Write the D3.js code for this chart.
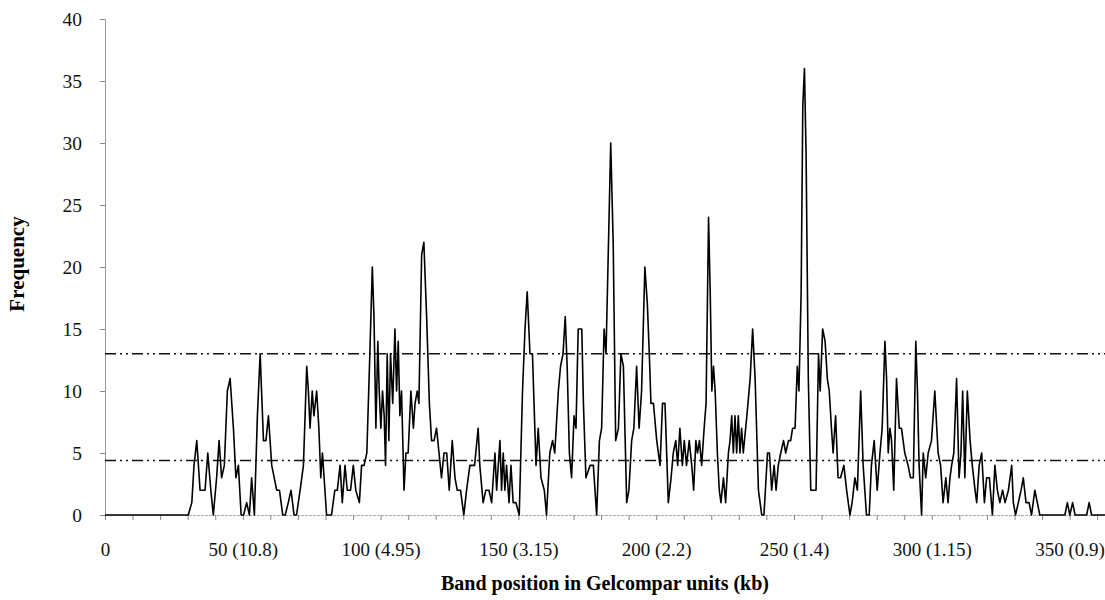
<!DOCTYPE html>
<html>
<head>
<meta charset="utf-8">
<script src="https://cdn.jsdelivr.net/npm/d3@7"></script>
<style>
  html, body { margin: 0; padding: 0; background: #fff; }
  svg { display: block; }
</style>
</head>
<body>
<svg id="chart" width="1105" height="600"></svg>
<script>
// ---------------- data ----------------
// band position (Gelcompar units) of each vertex of the frequency curve
const bandPosition = [
  0, 30.2, 31.5, 32.3, 33.3, 34.5, 36.3, 37.3, 38.4, 39.3, 40.5, 41.4, 42.3, 43.3, 44.4, 45.4, 46.6, 47.5, 48.4, 49.4,
  50.3, 51.4, 52.4, 53.2, 54.2, 55.3, 56.3, 57.5, 58.4, 59.3, 60.5, 62.3, 63.3, 64.5, 65.4, 66.5, 67.5, 68.6, 69.5,
  70.8, 72, 73.2, 73.8, 74.4, 75.2, 75.8, 76.8, 77.6, 78.3, 78.9, 79.5, 80.4, 82.2, 83.4, 84.3, 85.3, 86.1, 87.1,
  87.9, 89.1, 90.1, 91, 92.3, 93.1, 94, 95, 96.1, 97, 97.6, 98.3, 99, 99.5, 100.1, 100.7, 101.3, 101.8, 102.4, 103,
  103.6, 104.4, 105.2, 105.8, 106.4, 107, 107.6, 108.5, 109.2, 110, 111, 111.9, 112.5, 113.3, 113.9, 114.9, 115.7,
  116.7, 117.7, 118.5, 119.4, 120.3, 121.2, 122.1, 123, 124, 124.9, 126, 127, 127.8, 129, 130.2, 131.2, 132.4, 133.3,
  134.1, 135.4, 136, 137.2, 138.2, 139.3, 140.3, 141.5, 142.1, 143.3, 143.9, 144.5, 145.1, 145.7, 146.6, 147.3, 148.1,
  149.1, 150.3, 151.5, 152.4, 153.2, 154.2, 155.1, 156.4, 157.2, 158.2, 159.4, 160.2, 161.4, 162.4, 163.2, 164.5,
  165.3, 166.2, 167, 167.7, 168.5, 169.3, 170.2, 170.9, 171.7, 173, 173.6, 174.5, 176, 177.2, 178.4, 179.4, 180.2,
  181.1, 181.8, 182.6, 183.5, 184.4, 185.3, 186.3, 187.2, 188.1, 189.3, 190.1, 191.1, 191.9, 192.9, 193.8, 194.7,
  195.3, 195.9, 196.8, 197.5, 198.1, 199, 200.2, 201.4, 202.3, 203.2, 204.4, 205.4, 206.2, 207.1, 207.8, 208.6, 209.5,
  210.2, 211, 212, 212.9, 213.6, 214.4, 215, 215.7, 216.5, 217.4, 218.1, 219, 219.6, 220.2, 220.8, 221.4, 222.2, 222.9,
  223.5, 224.4, 225.2, 226.2, 226.8, 227.4, 228, 228.6, 229.2, 229.8, 230.4, 231, 231.6, 232.9, 234.1, 235, 235.9,
  237.1, 238.3, 239.1, 240.4, 241.1, 241.9, 242.8, 243.5, 244.3, 245.2, 246.2, 247, 248, 248.8, 249.5, 250.4, 251.2,
  251.8, 252.6, 253.2, 253.8, 254.4, 255.2, 256.1, 258, 258.9, 259.5, 260.4, 261.3, 262.1, 262.8, 263.6, 264.2, 265.1,
  266, 266.9, 268.1, 269.1, 270.3, 271.1, 272.1, 273, 274.2, 275.1, 276.3, 277.3, 278.1, 279.1, 280.2, 281.2, 282,
  283, 283.6, 284.2, 284.8, 285.4, 286.2, 287.2, 288.2, 289, 290.2, 291.4, 292.3, 293.3, 294.2, 294.8, 295.4, 296.3,
  296.9, 297.8, 298.7, 299.9, 301.1, 302.3, 303.2, 304.1, 305.1, 305.9, 306.6, 307.2, 308, 309, 309.9, 310.6, 311.2,
  312, 312.9, 313.9, 314.7, 315.7, 316.3, 317.2, 318.1, 319.1, 319.9, 320.9, 322, 322.9, 323.8, 324.7, 325.7, 326.6,
  327.8, 329, 329.6, 330.4, 331.4, 332.4, 333.2, 334.2, 335.3, 336.2, 337.4, 338.3, 339.2, 348.3, 349.2, 350.1, 351.1,
  352, 356.2, 357.1, 358, 363
];
// frequency at each vertex
const frequency = [
  0, 0, 1, 4, 6, 2, 2, 5, 2, 0, 3, 6, 3, 4, 10, 11, 7, 3, 4, 0,
  0, 1, 0, 3, 0, 8, 13, 6, 6, 8, 4, 2, 2, 0, 0, 1, 2, 0, 0,
  2, 4, 12, 10, 7, 10, 8, 10, 7, 3, 5, 3, 0, 0, 2, 2, 4, 1, 4,
  2, 2, 4, 2, 1, 4, 4, 5, 13, 20, 16, 7, 14, 10, 7, 10, 8, 4, 13, 6,
  13, 9, 15, 10, 14, 8, 10, 2, 5, 5, 10, 7, 9, 10, 9, 21, 22,
  16, 9, 6, 6, 7, 5, 3, 5, 5, 2, 6, 3, 2, 2, 0, 2, 4, 4,
  4, 7, 4, 1, 2, 2, 1, 5, 2, 6, 2, 5, 2, 4, 1, 4, 1,
  1, 0, 10, 15, 18, 13, 13, 4, 7, 3, 2, 0, 5, 6, 5, 10,
  12, 13, 16, 12, 5, 3, 8, 7, 15, 15, 9, 3, 4, 4, 0, 6, 7,
  15, 13, 21, 30, 22, 6, 7, 13, 12, 1, 2, 6, 7, 12, 7, 10,
  15, 20, 17, 13, 9, 9, 6, 4, 9, 9, 1, 3, 5, 6, 4, 7, 4,
  6, 4, 6, 4, 2, 6, 5, 6, 4, 7, 9, 24, 18, 10, 12, 10, 5, 2,
  1, 3, 1, 5, 6, 8, 5, 8, 5, 8, 5, 7, 5, 8, 11, 15, 11,
  2, 0, 0, 5, 5, 2, 4, 2, 4, 5, 6, 5, 6, 6, 7, 7, 12,
  10, 18, 33, 36, 29, 11, 2, 2, 13, 10, 15, 14, 11, 10, 7, 5, 8,
  3, 3, 4, 2, 0, 1, 3, 2, 10, 4, 0, 0, 4, 6, 2, 5, 7,
  14, 11, 5, 7, 6, 2, 11, 7, 7, 5, 4, 3, 3, 14, 10, 4, 0,
  5, 3, 5, 6, 10, 5, 4, 1, 3, 1, 3, 4, 5, 11, 3, 5, 10,
  3, 10, 6, 4, 2, 1, 4, 5, 1, 3, 3, 0, 4, 2, 1, 2, 1,
  2, 4, 1, 0, 1, 2, 3, 1, 1, 0, 2, 1, 0, 0, 1, 0, 1,
  0, 0, 1, 0, 0
];
// x axis labels: position (kb)
const xLabelValues = [0, 50, 100, 150, 200, 250, 300, 350];
const xLabelTexts = ["0", "50 (10.8)", "100 (4.95)", "150 (3.15)", "200 (2.2)", "250 (1.4)", "300 (1.15)", "350 (0.9)"];
const yTickValues = [0, 5, 10, 15, 20, 25, 30, 35, 40];
// horizontal reference lines (mean and threshold)
const referenceLevels = [4.4, 13];

// ---------------- drawing ----------------
const svg = d3.select("#chart");
const mLeft = 105, mRight = 1105.4, mTop = 19, mBottom = 515;
const x = d3.scaleLinear().domain([0, 363]).range([mLeft, mRight]);
const y = d3.scaleLinear().domain([0, 40]).range([mBottom, mTop]);
const serif = "'Liberation Serif', 'Times New Roman', Times, serif";

// y axis
const yAxis = svg.append("g")
  .attr("transform", `translate(${mLeft},0)`)
  .call(d3.axisLeft(y).tickValues(yTickValues).tickSize(5).tickPadding(18));
yAxis.select(".domain").attr("stroke", "#999").attr("stroke-width", 1);
yAxis.selectAll(".tick line").attr("stroke", "#888");
yAxis.selectAll(".tick text").style("font-family", serif).style("font-size", "19.5px").attr("fill", "#111");

// x axis
const labelMap = new Map(xLabelValues.map((v, i) => [v, xLabelTexts[i]]));
const xAxis = svg.append("g")
  .attr("transform", `translate(0,${mBottom})`)
  .call(d3.axisBottom(x).tickValues(d3.range(0, 361, 10)).tickSize(5).tickPadding(23)
    .tickFormat(d => labelMap.has(d) ? labelMap.get(d) : ""));
xAxis.select(".domain").attr("stroke", "#aaa").attr("stroke-width", 1).attr("stroke-dasharray", "3,1");
xAxis.selectAll(".tick line").attr("stroke", "#888");
xAxis.selectAll(".tick text").style("font-family", serif).style("font-size", "19px").attr("fill", "#111");

// reference lines
svg.append("g").selectAll("line").data(referenceLevels).join("line")
  .attr("x1", x(0)).attr("x2", mRight)
  .attr("y1", d => y(d)).attr("y2", d => y(d))
  .attr("stroke", "#111").attr("stroke-width", 1.6)
  .attr("stroke-dasharray", "11,4,2,4,2,4");

// data line
const pts = bandPosition.map((p, i) => [p, frequency[i]]);
svg.append("path").datum(pts)
  .attr("fill", "none").attr("stroke", "#000").attr("stroke-width", 1.6)
  .attr("stroke-linejoin", "round")
  .attr("d", d3.line().x(d => x(d[0])).y(d => y(d[1])));

// axis titles
svg.append("text")
  .attr("x", 605).attr("y", 590)
  .attr("text-anchor", "middle")
  .style("font-family", serif).style("font-weight", "bold").style("font-size", "20px")
  .text("Band position in Gelcompar units (kb)");
svg.append("text")
  .attr("transform", "translate(24,264) rotate(-90)")
  .attr("text-anchor", "middle")
  .style("font-family", serif).style("font-weight", "bold").style("font-size", "21px")
  .text("Frequency");
</script>
</body>
</html>
